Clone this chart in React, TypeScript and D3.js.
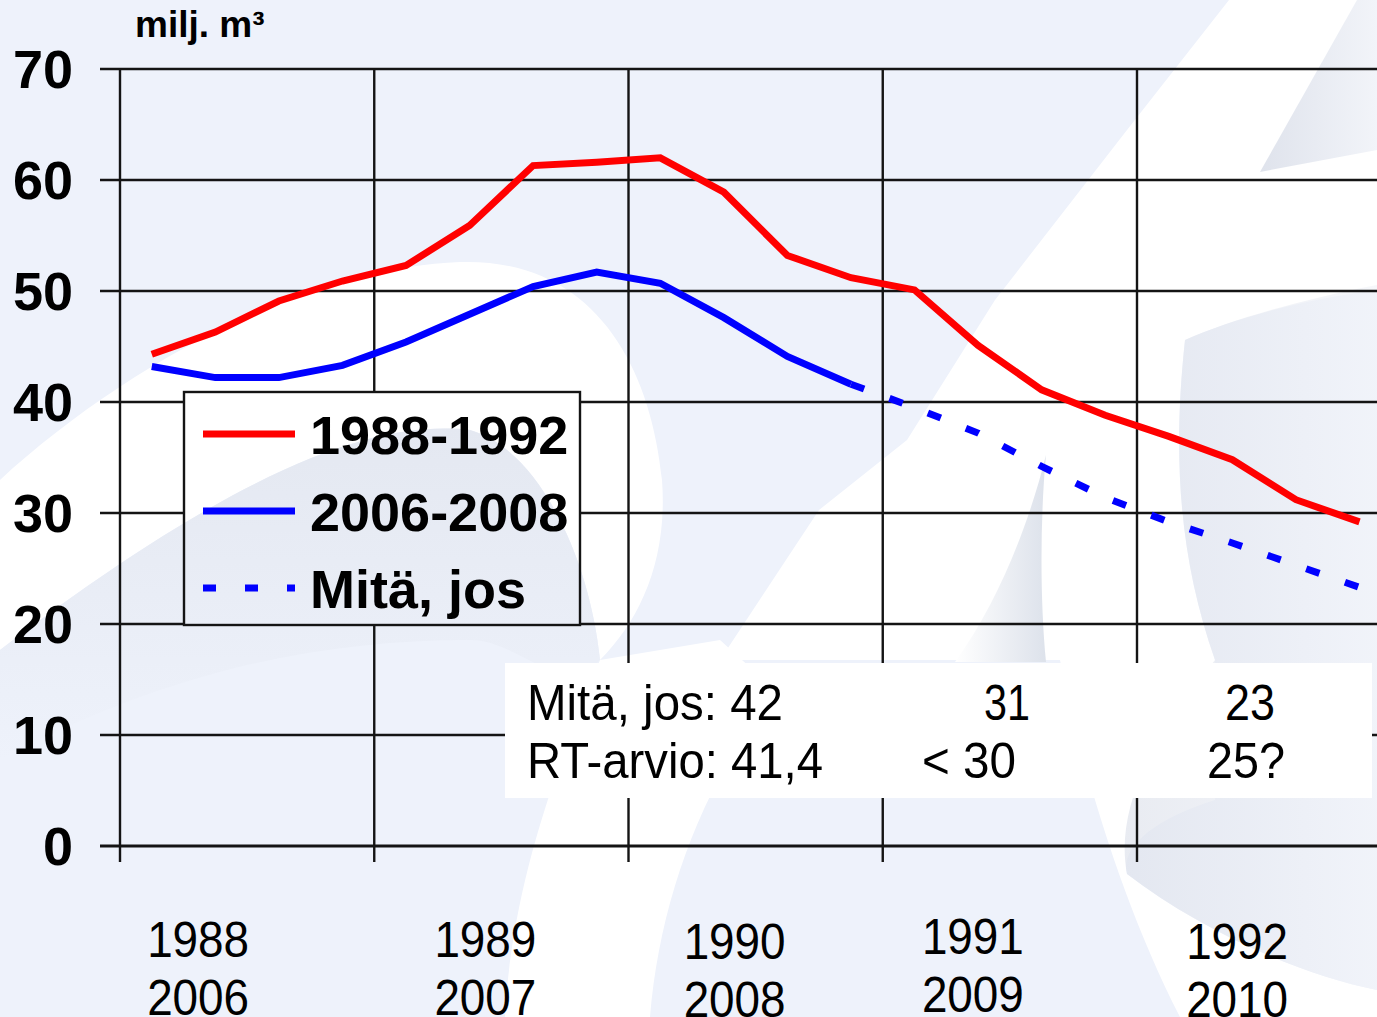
import React from "react";
import * as d3 from "d3";

// ---------- data ----------
const red8892 = [44.3, 46.3, 49.1, 50.9, 52.3, 55.9, 61.3, 61.6, 62.0, 58.9, 53.2, 51.2, 50.1, 45.1, 41.1, 38.8, 36.9, 34.8, 31.2, 29.2];
const blue0608 = [43.2, 42.2, 42.2, 43.3, 45.4, 47.9, 50.4, 51.7, 50.7, 47.6, 44.1, 41.6];
const blueWhatIf = [41.6, 39.5, 37.2, 34.2, 31.4, 29.2, 27.3, 25.3, 23.3];
const whatIfStart = 11;
const yTicks = [0, 10, 20, 30, 40, 50, 60, 70];
const yearTicks = [0, 4, 8, 12, 16];
const yearsA = ["1988", "1989", "1990", "1991", "1992"];
const yearsB = ["2006", "2007", "2008", "2009", "2010"];
const legendLabels = ["1988-1992", "2006-2008", "Mitä, jos"];
const tableRow1 = ["Mitä, jos: 42", "31", "23"];
const tableRow2 = ["RT-arvio: 41,4", "< 30", "25?"];

// ---------- layout ----------
const W = 1377;
const H = 1017;
const FONT = "'Liberation Sans', Arial, Helvetica, sans-serif";
const labelDx = [-49, -16, -21, -37, -27];
const labelDy = [0, 0, 2, -3, 2];

export default function App() {
  const x = d3.scaleLinear().domain([0, 20]).range([120, 1391.25]);
  const y = d3.scaleLinear().domain([0, 70]).range([846, 69]);

  const lineRed = d3.line<number>().x((_, i) => x(i + 0.5)).y((d) => y(d));
  const lineBlue = d3.line<number>().x((_, i) => x(i + 0.5)).y((d) => y(d));
  const lineDash = d3
    .line<number>()
    .x((_, i) => x(i + whatIfStart + 0.5))
    .y((d) => y(d));

  const legend = { x: 184, y: 392, w: 396, h: 233 };
  const table = { x: 505, y: 663, w: 867, h: 135 };
  const gridColor = "#141414";

  return (
    <svg
      width={W}
      height={H}
      style={{ position: "fixed", left: 0, top: 0, display: "block" }}
      fontFamily={FONT}
    >
      <defs>
        <mask id="gridMask">
          <rect x={0} y={0} width={W} height={H} fill="white" />
          <rect x={legend.x} y={legend.y} width={legend.w} height={legend.h} fill="black" />
        </mask>
        <linearGradient id="shadeA" x1="0" y1="0" x2="1" y2="0">
          <stop offset="0" stopColor="#dfe3ec" />
          <stop offset="1" stopColor="#f2f4f9" />
        </linearGradient>
        <linearGradient id="shadeB" x1="0" y1="0" x2="0" y2="1">
          <stop offset="0" stopColor="#e4e8f1" />
          <stop offset="1" stopColor="#eef2fb" />
        </linearGradient>
        <linearGradient id="shadeC" x1="1" y1="0" x2="0" y2="0">
          <stop offset="0" stopColor="#dde2eb" />
          <stop offset="1" stopColor="#ffffff" />
        </linearGradient>
      </defs>

      {/* background */}
      <rect x={0} y={0} width={W} height={H} fill="#eef2fb" />
      {/* white dome swoosh */}
      <path
        d="M0,480 C120,370 300,268 460,262 C590,258 650,360 662,480 C668,560 640,620 600,660 C590,560 540,450 470,430 C380,420 250,460 0,650 Z"
        fill="#ffffff"
      />
      <path
        d="M0,650 C250,460 380,420 470,430 C540,450 590,560 600,660 C560,700 520,640 470,640 C300,640 150,680 0,760 Z"
        fill="url(#shadeB)"
      />
      {/* lower white swoosh */}
      <path
        d="M600,660 C560,760 512,880 505,1017 L650,1017 C660,900 700,790 775,690 L720,640 Z"
        fill="#ffffff"
      />
      {/* diagonal white band top right */}
      <path
        d="M1229,0 L1377,0 L1377,290 C1300,300 1230,320 1185,340 C1172,460 1180,560 1215,660 L1215,800 C1150,820 1120,850 1127,874 C1200,930 1300,975 1377,990 L1377,1017 L1180,1017 C1120,900 1080,760 1060,660 L720,660 L819,510 L907,440 L995,300 L1127,130 Z"
        fill="#ffffff"
      />
      <path d="M1046,455 C1030,520 1000,600 955,662 L1046,662 C1040,600 1040,520 1046,455 Z" fill="url(#shadeC)" />
      <path d="M1357,0 L1377,0 L1377,150 L1260,172 Z" fill="url(#shadeA)" />
      <path
        d="M1185,340 C1230,320 1300,300 1377,285 L1377,990 C1300,975 1200,930 1127,874 C1115,810 1150,740 1215,660 C1180,560 1172,460 1185,340 Z"
        fill="url(#shadeA)"
        opacity={0.7}
      />

      {/* grid */}
      <g mask="url(#gridMask)" stroke={gridColor} strokeWidth={2.4}>
        {yTicks.map((t) => (
          <line key={"h" + t} x1={100} x2={W} y1={y(t)} y2={y(t)} strokeWidth={t === 0 ? 3 : 2.4} />
        ))}
        {yearTicks.map((q) => (
          <line key={"v" + q} x1={x(q)} x2={x(q)} y1={y(70)} y2={862} />
        ))}
      </g>

      {/* value table */}
      <rect x={table.x} y={table.y} width={table.w} height={table.h} fill="#ffffff" />
      <g fontSize={50} fill="#000">
        <text x={527} y={720} textLength={256} lengthAdjust="spacingAndGlyphs">
          {tableRow1[0]}
        </text>
        <text x={1007} y={720} textAnchor="middle" textLength={46} lengthAdjust="spacingAndGlyphs">
          {tableRow1[1]}
        </text>
        <text x={1250} y={720} textAnchor="middle" textLength={50} lengthAdjust="spacingAndGlyphs">
          {tableRow1[2]}
        </text>
        <text x={527} y={778} textLength={296} lengthAdjust="spacingAndGlyphs">
          {tableRow2[0]}
        </text>
        <text x={922} y={778} textLength={94} lengthAdjust="spacingAndGlyphs">
          {tableRow2[1]}
        </text>
        <text x={1246} y={778} textAnchor="middle" textLength={78} lengthAdjust="spacingAndGlyphs">
          {tableRow2[2]}
        </text>
      </g>

      {/* series */}
      <path d={lineRed(red8892) || ""} fill="none" stroke="#ff0000" strokeWidth={7} strokeLinejoin="miter" />
      <path d={lineBlue(blue0608) || ""} fill="none" stroke="#0000ff" strokeWidth={7} strokeLinejoin="miter" />
      <path
        d={lineDash(blueWhatIf) || ""}
        fill="none"
        stroke="#0000ff"
        strokeWidth={7}
        strokeDasharray="14 27"
      />

      {/* legend */}
      <rect
        x={legend.x}
        y={legend.y}
        width={legend.w}
        height={legend.h}
        fill="none"
        stroke={gridColor}
        strokeWidth={2.4}
      />
      {legendLabels.map((lab, i) => {
        const ly = 434 + i * 77;
        return (
          <g key={lab}>
            <line
              x1={203}
              x2={295}
              y1={ly}
              y2={ly}
              stroke={i === 0 ? "#ff0000" : "#0000ff"}
              strokeWidth={7}
              strokeDasharray={i === 2 ? "13 29" : undefined}
            />
            <text x={310} y={ly + 20} fontSize={54} fontWeight="bold" fill="#000">
              {lab}
            </text>
          </g>
        );
      })}

      {/* y axis labels */}
      {yTicks.map((t) => (
        <text key={"yl" + t} x={73} y={y(t) + 19} textAnchor="end" fontSize={54} fontWeight="bold" fill="#000">
          {t}
        </text>
      ))}
      <text x={135} y={37} fontSize={37} fontWeight="bold" fill="#000">
        milj. m³
      </text>

      {/* x axis labels */}
      {yearTicks.map((q, i) => {
        const cx = x(q + 2) + labelDx[i];
        return (
          <g key={"xl" + q} fontSize={50} fill="#000">
            <text x={cx} y={957 + labelDy[i]} textAnchor="middle" textLength={102} lengthAdjust="spacingAndGlyphs">
              {yearsA[i]}
            </text>
            <text x={cx} y={1015 + labelDy[i]} textAnchor="middle" textLength={102} lengthAdjust="spacingAndGlyphs">
              {yearsB[i]}
            </text>
          </g>
        );
      })}
    </svg>
  );
}
